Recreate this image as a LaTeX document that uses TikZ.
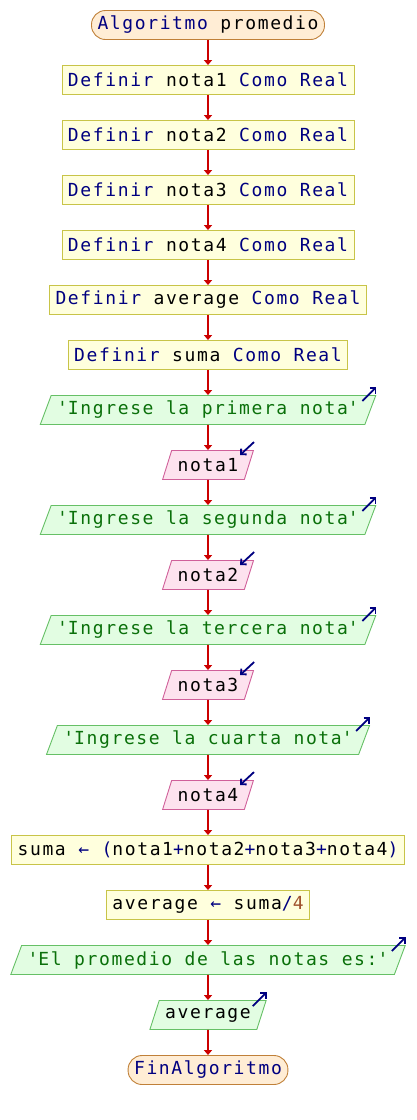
\documentclass[tikz,border=0pt]{standalone}
\usepackage{fontspec}
\usepackage{xcolor}
\usepackage{tikz}
\usetikzlibrary{shapes.geometric}
\usetikzlibrary{arrows.meta}
\newfontfamily\codefont{DejaVu Sans Mono}[LetterSpace=9]
\definecolor{clave}{HTML}{000080}
\definecolor{cadena}{HTML}{0A700A}
\definecolor{numero}{HTML}{A0522D}
\definecolor{flechared}{HTML}{CC0000}
\definecolor{termborde}{HTML}{C08038}
\definecolor{termfondo}{HTML}{FFEDD5}
\definecolor{procborde}{HTML}{C8C448}
\definecolor{procfondo}{HTML}{FFFFDD}
\definecolor{salborde}{HTML}{66C066}
\definecolor{salfondo}{HTML}{E2FDE2}
\definecolor{entborde}{HTML}{D0609A}
\definecolor{entfondo}{HTML}{FDE2EE}
\newcommand{\clave}[1]{\textcolor{clave}{#1}}
\newcommand{\cadena}[1]{\textcolor{cadena}{\textquotesingle#1\textquotesingle}}
\newcommand{\numero}[1]{\textcolor{numero}{#1}}

\begin{document}
\begin{tikzpicture}[x=1pt,y=-1pt,
    base/.style={font=\codefont\fontsize{18}{21}\selectfont,minimum height=29pt,
      inner xsep=6pt,inner ysep=2pt,line width=0.9pt},
    terminal/.style={base,draw=termborde,fill=termfondo,rounded corners=14pt},
    proceso/.style={base,draw=procborde,fill=procfondo},
    salida/.style={base,trapezium,trapezium left angle=67,trapezium right angle=113,
      trapezium stretches body,inner ysep=4pt,draw=salborde,fill=salfondo},
    entrada/.style={salida,draw=entborde,fill=entfondo},
    flecha/.style={draw=flechared,line width=1.6pt,-{Triangle[width=8pt,length=5pt]}},
    icono/.style={draw=clave,line width=1.8pt,-{Straight Barb[width=8pt,length=4pt]}}]
    \useasboundingbox (0,0) rectangle (416,1120);
    %
    \node[terminal] (inicio) at (208,25) {\clave{Algoritmo} promedio};
    \node[proceso] (d1) at (208,80) {\clave{Definir} nota1 \clave{Como Real}};
    \node[proceso] (d2) at (208,135) {\clave{Definir} nota2 \clave{Como Real}};
    \node[proceso] (d3) at (208,190) {\clave{Definir} nota3 \clave{Como Real}};
    \node[proceso] (d4) at (208,245) {\clave{Definir} nota4 \clave{Como Real}};
    \node[proceso] (d5) at (208,300) {\clave{Definir} average \clave{Como Real}};
    \node[proceso] (d6) at (208,355) {\clave{Definir} suma \clave{Como Real}};
    \node[salida] (o1) at (208,410) {\cadena{Ingrese la primera nota}};
    \node[entrada] (i1) at (208,465) {nota1};
    \node[salida] (o2) at (208,520) {\cadena{Ingrese la segunda nota}};
    \node[entrada] (i2) at (208,575) {nota2};
    \node[salida] (o3) at (208,630) {\cadena{Ingrese la tercera nota}};
    \node[entrada] (i3) at (208,685) {nota3};
    \node[salida] (o4) at (208,740) {\cadena{Ingrese la cuarta nota}};
    \node[entrada] (i4) at (208,795) {nota4};
    \node[proceso] (suma) at (208,850) {suma \clave{← (}nota1\clave{+}nota2\clave{+}nota3\clave{+}nota4\clave{)}};
    \node[proceso] (prom) at (208,905) {average \clave{←} suma\clave{/}\numero{4}};
    \node[salida] (o5) at (208,960) {\cadena{El promedio de las notas es:}};
    \node[salida] (o6) at (208,1015) {average};
    \node[terminal] (fin) at (208,1070) {\clave{FinAlgoritmo}};
    %
    \foreach \a/\b in {inicio/d1,d1/d2,d2/d3,d3/d4,d4/d5,d5/d6,d6/o1,o1/i1,i1/o2,
      o2/i2,i2/o3,o3/i3,i3/o4,o4/i4,i4/suma,suma/prom,prom/o5,o5/o6,o6/fin}
      \draw[flecha] (\a) -- (\b);
    %
    \foreach \o in {o1,o2,o3,o4,o5,o6}
      \draw[icono] ([shift={(-14,6)}]\o.top right corner) -- ++(14,-14);
    \foreach \i in {i1,i2,i3,i4}
      \draw[icono] ([shift={(0,-8)}]\i.top right corner) -- ++(-14,13);
\end{tikzpicture}
\end{document}
